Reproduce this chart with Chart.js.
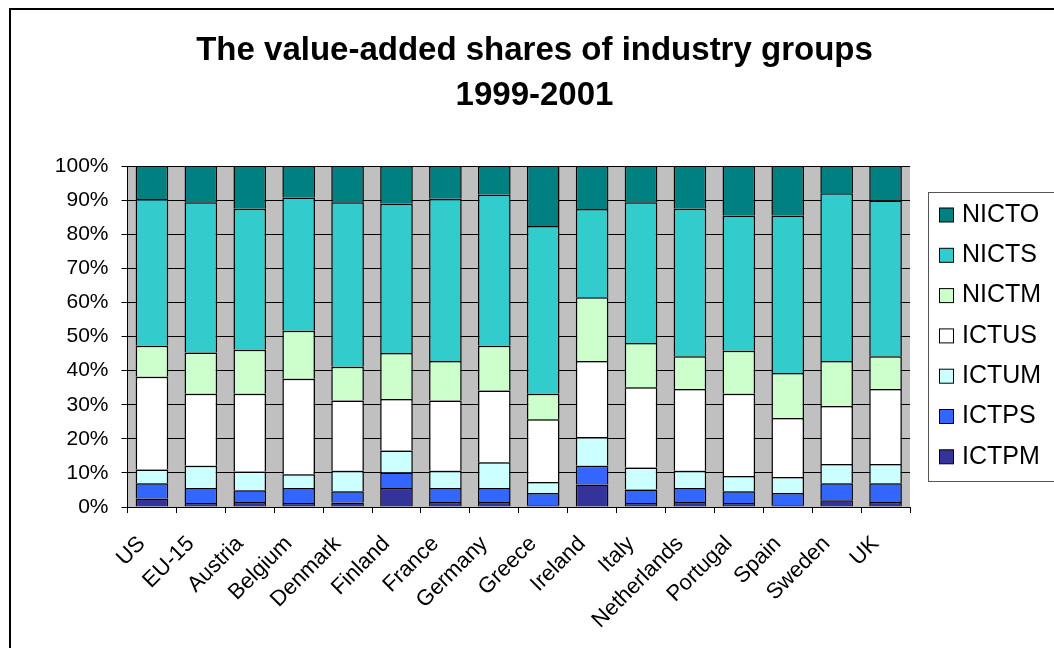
<!DOCTYPE html>
<html>
<head>
<meta charset="utf-8">
<script src="https://cdn.jsdelivr.net/npm/chart.js@4/dist/chart.umd.min.js"></script>
<style>
  body { margin: 0; background: #fff; }
  canvas { display: block; }
</style>
</head>
<body>
<canvas id="shareChart" width="1054" height="648"></canvas>
<script>
const countries = ['US', 'EU-15', 'Austria', 'Belgium', 'Denmark', 'Finland', 'France', 'Germany',
  'Greece', 'Ireland', 'Italy', 'Netherlands', 'Portugal', 'Spain', 'Sweden', 'UK'];

// shares in % (bottom segment first)
const ictpm = [2.5, 1.2, 1.5, 1.2, 1.3, 5.6, 1.5, 1.5, 0.5, 6.6, 1.2, 1.5, 1.2, 0.5, 2.0, 1.5];
const ictps = [4.5, 4.4, 3.4, 4.4, 3.3, 4.5, 4.1, 4.1, 3.6, 5.5, 3.9, 4.1, 3.4, 3.6, 5.0, 5.5];
const ictum = [4.0, 6.5, 5.5, 4.0, 6.0, 6.5, 5.0, 7.5, 3.2, 8.4, 6.5, 5.0, 4.5, 4.7, 5.6, 5.6];
const ictus = [27.2, 21.1, 22.8, 28.0, 20.6, 15.1, 20.6, 21.1, 18.4, 22.3, 23.5, 24.0, 24.1, 17.3, 17.0, 22.0];
const nictm = [9.1, 12.1, 12.9, 14.1, 9.9, 13.5, 11.6, 13.1, 7.5, 18.7, 13.0, 9.6, 12.6, 13.2, 13.2, 9.6];
const nicts = [43.0, 44.1, 41.4, 39.1, 48.3, 43.7, 47.6, 44.3, 49.2, 25.9, 41.3, 43.3, 39.6, 46.1, 49.2, 45.7];
const nicto = [9.7, 10.6, 12.5, 9.2, 10.6, 11.1, 9.6, 8.4, 17.6, 12.6, 10.6, 12.5, 14.6, 14.6, 8.0, 10.1];

const yTicks = [0, 10, 20, 30, 40, 50, 60, 70, 80, 90, 100];

const FONT = '"Liberation Sans", Arial, sans-serif';

const datasets = [
  { label: 'ICTPM', data: ictpm, backgroundColor: '#333399' },
  { label: 'ICTPS', data: ictps, backgroundColor: '#3366FF' },
  { label: 'ICTUM', data: ictum, backgroundColor: '#CCFFFF' },
  { label: 'ICTUS', data: ictus, backgroundColor: '#FFFFFF' },
  { label: 'NICTM', data: nictm, backgroundColor: '#CCFFCC' },
  { label: 'NICTS', data: nicts, backgroundColor: '#33CCCC' },
  { label: 'NICTO', data: nicto, backgroundColor: '#008080' }
].map(ds => Object.assign(ds, {
  borderColor: '#000',
  borderWidth: 1.5,
  categoryPercentage: 0.667,
  barPercentage: 1
}));

// grey plot background, outer frame and the boxed legend on the right
const decor = {
  id: 'decor',
  beforeDatasetsDraw(chart) {
    const { ctx, chartArea: a } = chart;
    ctx.save();
    ctx.fillStyle = '#C0C0C0';
    ctx.globalCompositeOperation = 'destination-over';
    ctx.fillRect(a.left, a.top, a.right - a.left, a.bottom - a.top);
    ctx.restore();
  },
  afterDraw(chart) {
    const ctx = chart.ctx;
    ctx.save();
    ctx.strokeStyle = '#000';
    ctx.lineWidth = 2;
    ctx.strokeRect(10, 9, 1200, 800);

    ctx.strokeStyle = '#555';
    ctx.lineWidth = 1;
    ctx.strokeRect(928.5, 192.5, 200, 289);

    const items = chart.data.datasets.slice().reverse();
    ctx.font = '25px ' + FONT;
    ctx.textBaseline = 'middle';
    items.forEach((ds, i) => {
      const y = 215 + i * 40.3;
      ctx.fillStyle = ds.backgroundColor;
      ctx.fillRect(939.5, y - 7, 14, 14);
      ctx.strokeStyle = '#000';
      ctx.strokeRect(939.5, y - 7, 14, 14);
      ctx.fillStyle = '#000';
      ctx.fillText(ds.label, 962, y);
    });
    ctx.restore();
  }
};

new Chart(document.getElementById('shareChart'), {
  type: 'bar',
  data: { labels: countries, datasets: datasets },
  plugins: [decor],
  options: {
    responsive: false,
    animation: false,
    layout: { padding: { left: 15, right: 0, top: 0, bottom: 0 } },
    plugins: {
      legend: { display: false },
      tooltip: { enabled: false },
      title: {
        display: true,
        text: ['The value-added shares of industry groups', '1999-2001'],
        color: '#000',
        font: { family: FONT, size: 33, weight: 'bold', lineHeight: 1.364 },
        padding: { top: 28, bottom: 48 }
      }
    },
    scales: {
      x: {
        stacked: true,
        grid: { offset: true, drawOnChartArea: false, drawTicks: true, tickLength: 6, color: '#000' },
        border: { color: '#000', width: 1 },
        ticks: {
          color: '#000',
          font: { family: FONT, size: 22 },
          maxRotation: 45,
          minRotation: 45,
          autoSkip: false,
          padding: 18,
          labelOffset: -10
        },
        afterFit(s) { s.height = 141; }
      },
      y: {
        stacked: true,
        min: 0,
        max: 100,
        afterBuildTicks(s) { s.ticks = yTicks.map(v => ({ value: v })); },
        grid: { color: '#000', lineWidth: 1, tickLength: 6 },
        border: { color: '#000', width: 1 },
        ticks: {
          color: '#000',
          font: { family: FONT, size: 21 },
          padding: 13,
          callback: v => v + '%'
        },
        afterFit(s) { s.width = 112.5; }
      },
      yr: {
        position: 'right',
        display: true,
        grid: { display: false },
        border: { display: false },
        ticks: { display: false },
        afterFit(s) { s.width = 144; }
      }
    }
  }
});
</script>
</body>
</html>
